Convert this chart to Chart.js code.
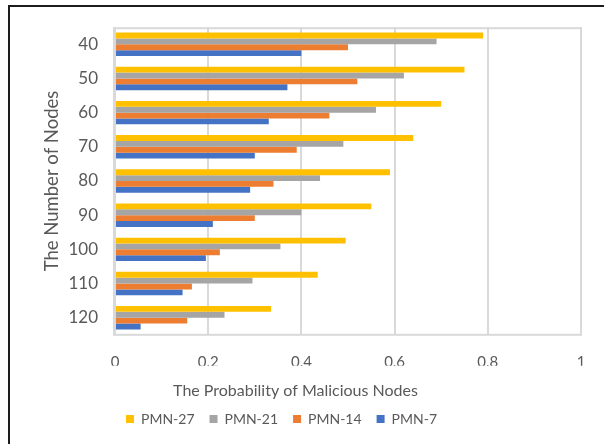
<!DOCTYPE html>
<html>
<head>
<meta charset="utf-8">
<script src="https://cdn.jsdelivr.net/npm/chart.js@4.4.1/dist/chart.umd.min.js"></script>
<style>
  html, body { margin: 0; padding: 0; background: #ffffff; }
  #wrap { position: relative; width: 604px; height: 444px; overflow: hidden; }
  #frame { position: absolute; left: 8px; top: 5px; width: 700px; height: 600px;
           border-left: 2px solid #1c1c1c; border-top: 2px solid #1c1c1c; }
  canvas { position: absolute; left: 0; top: 0; }
</style>
</head>
<body>
<div id="wrap">
  <div id="frame"></div>
  <canvas id="chart" width="604" height="444"></canvas>
</div>
<script>
// Number of nodes in the network (one group of bars per value)
const nodeCounts = ['40', '50', '60', '70', '80', '90', '100', '110', '120'];

// Probability of malicious nodes for each PMN setting
const pmn27 = [0.79, 0.75, 0.70, 0.64, 0.59, 0.55, 0.495, 0.435, 0.335];
const pmn21 = [0.69, 0.62, 0.56, 0.49, 0.44, 0.40, 0.355, 0.295, 0.235];
const pmn14 = [0.50, 0.52, 0.46, 0.39, 0.34, 0.30, 0.225, 0.165, 0.155];
const pmn7  = [0.40, 0.37, 0.33, 0.30, 0.29, 0.21, 0.195, 0.145, 0.055];

const seriesNames = ['PMN-27', 'PMN-21', 'PMN-14', 'PMN-7'];
const seriesColors = ['#FFC000', '#A5A5A5', '#ED7D31', '#4472C4'];
const seriesValues = [pmn27, pmn21, pmn14, pmn7];

const xTicks = [0, 0.2, 0.4, 0.6, 0.8, 1];

const FONT = 'Lato';
const TEXT = '#595959';
const GRID = '#D9D9D9';

// Light frame around the plotting area
const plotFrame = {
  id: 'plotFrame',
  afterDatasetsDraw(chart) {
    const a = chart.chartArea;
    const ctx = chart.ctx;
    ctx.save();
    ctx.strokeStyle = GRID;
    ctx.lineWidth = 2;
    ctx.strokeRect(a.left - 1, a.top + 1, a.right - a.left + 1, a.bottom - a.top - 1);
    ctx.restore();
  }
};

// Nudge the bottom title and the legend
const bottomBlocks = {
  id: 'bottomBlocks',
  afterLayout(chart) {
    const shift = (box, dx, dy) => {
      if (!box) return;
      box.left += dx; box.right += dx;
      box.top += dy; box.bottom += dy;
    };
    shift(chart.titleBlock, 0, 0);
    shift(chart.legend, -14, -3);
  }
};

new Chart(document.getElementById('chart'), {
  type: 'bar',
  data: {
    labels: nodeCounts,
    datasets: seriesNames.map((name, i) => ({
      label: name,
      data: seriesValues[i],
      backgroundColor: seriesColors[i],
      borderWidth: 0,
      categoryPercentage: 0.685,
      barPercentage: 1.0
    }))
  },
  options: {
    indexAxis: 'y',
    responsive: false,
    animation: false,
    layout: { padding: { left: 10, right: 23, top: 27, bottom: 5 } },
    scales: {
      x: {
        min: 0,
        max: 1,
        afterFit(scale) { scale.height = 31; },
        afterBuildTicks(scale) { scale.ticks = xTicks.map(v => ({ value: v })); },
        ticks: {
          color: TEXT,
          font: { family: FONT, size: 15 },
          padding: 18,
          maxRotation: 0,
          callback: (v) => String(v)
        },
        grid: { color: GRID, lineWidth: 2, drawTicks: false },
        border: { display: false }
      },
      y: {
        afterFit(scale) { scale.width = 105; },
        ticks: {
          color: TEXT,
          font: { family: FONT, size: 17 },
          padding: 17
        },
        grid: { display: false, drawTicks: false },
        border: { display: false },
        title: {
          display: true,
          text: 'The Number of Nodes',
          color: TEXT,
          font: { family: FONT, size: 18.5, weight: 'normal' },
          padding: { top: 31, bottom: 0 }
        }
      }
    },
    plugins: {
      title: {
        display: true,
        position: 'bottom',
        weight: 500,
        text: 'The Probability of Malicious Nodes',
        color: TEXT,
        font: { family: FONT, size: 16, weight: 'normal' },
        padding: { top: 15, bottom: 0 }
      },
      legend: {
        position: 'bottom',
        labels: {
          color: TEXT,
          font: { family: FONT, size: 14 },
          boxWidth: 8,
          boxHeight: 8,
          padding: 15
        }
      },
      tooltip: { enabled: false }
    }
  },
  plugins: [plotFrame, bottomBlocks]
});
</script>
</body>
</html>
